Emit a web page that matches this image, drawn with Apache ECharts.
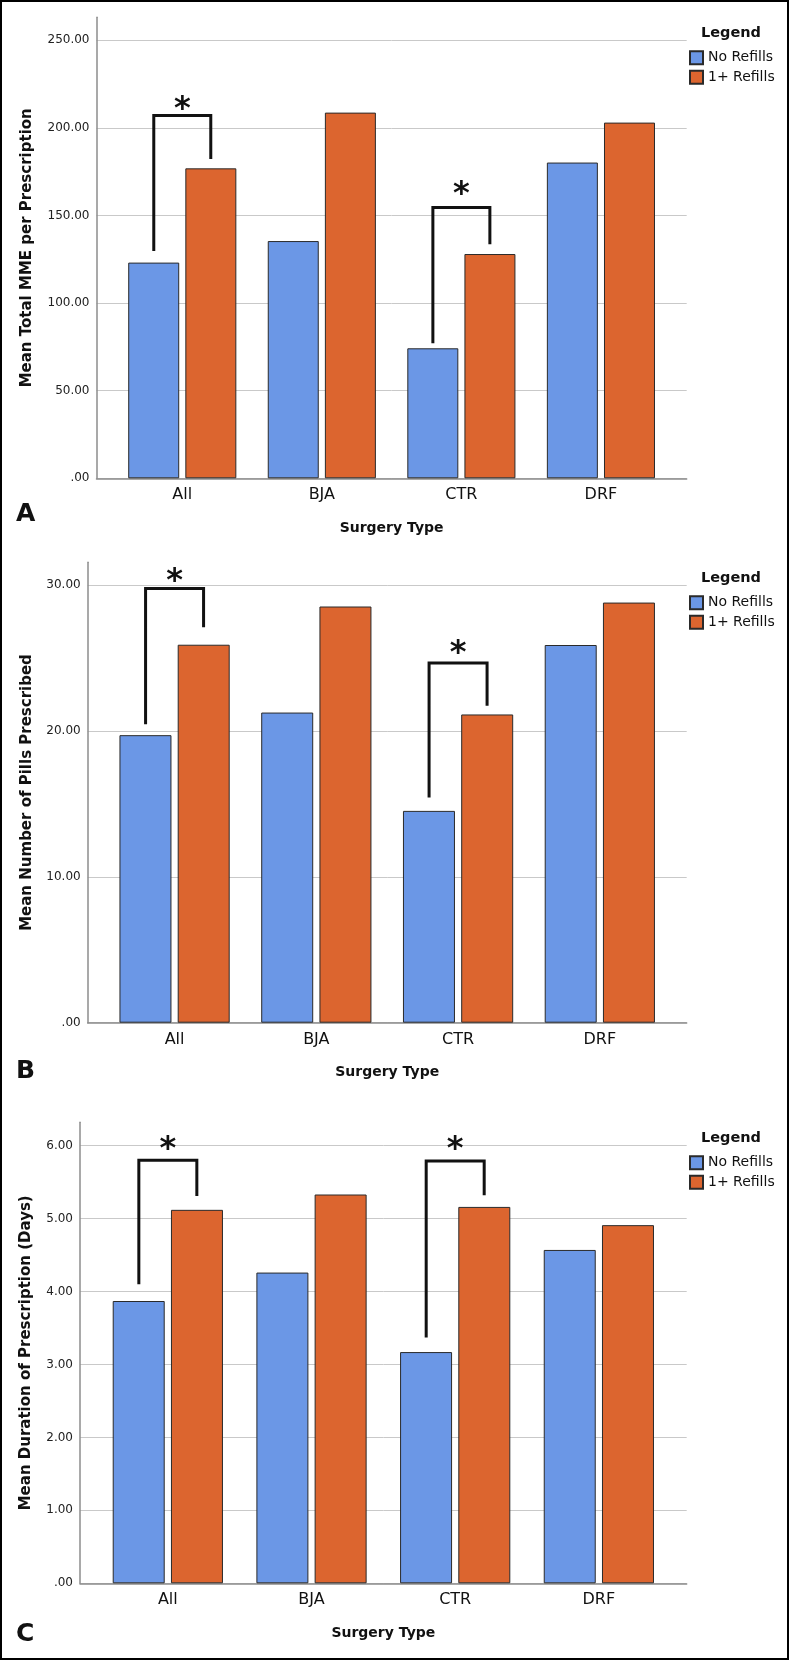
<!DOCTYPE html>
<html>
<head>
<meta charset="utf-8">
<script src="https://cdn.jsdelivr.net/npm/echarts@6/dist/echarts.min.js"></script>
<style>
  html, body { margin: 0; padding: 0; background: #fff; }
  #chart { width: 789px; height: 1660px; }
</style>
</head>
<body>
<div id="chart"></div>
<script>
const categories = ['All', 'BJA', 'CTR', 'DRF']
const seriesNames = ['No Refills', '1+ Refills']

// A - Mean Total MME per Prescription
const mmeNoRefills = [123.1, 135.4, 74.2, 180.2]
const mmeRefills = [176.9, 208.7, 128.0, 203.0]
// B - Mean Number of Pills Prescribed
const pillsNoRefills = [19.71, 21.26, 14.52, 25.89]
const pillsRefills = [25.91, 28.53, 21.13, 28.80]
// C - Mean Duration of Prescription (Days)
const daysNoRefills = [3.87, 4.26, 3.17, 4.57]
const daysRefills = [5.12, 5.33, 5.16, 4.91]

// significance brackets: [category index, left end, top, right end, star]
const mmeBrackets = [[0, 129.7, 207.0, 182.3, 215.0], [2, 77.1, 154.5, 133.6, 166.4]]
const pillsBrackets = [[0, 20.45, 29.76, 27.11, 30.78], [2, 15.43, 24.66, 21.72, 25.84]]
const daysBrackets = [[0, 4.10, 5.80, 5.31, 6.06], [2, 3.37, 5.79, 5.32, 6.06]]

// y axis ranges / tick steps
const mmeAxis = { max: 263.1, interval: 50 }
const pillsAxis = { max: 31.56, interval: 10 }
const daysAxis = { max: 6.32, interval: 1 }

const FONT = 'DejaVu Sans'
const BLUE = '#6b97e6'
const ORANGE = '#dc652f'
const W = 789, H = 1660
const gridRight = W - 686.7

const panels = [
  { letter: 'A', yName: 'Mean Total MME per Prescription', no: mmeNoRefills, yes: mmeRefills,
    brackets: mmeBrackets, axis: mmeAxis, axisX: 96.5, top: 17.3, base: 478.3, barWidth: 51, nameGap: 62, letterY: 514 },
  { letter: 'B', yName: 'Mean Number of Pills Prescribed', no: pillsNoRefills, yes: pillsRefills,
    brackets: pillsBrackets, axis: pillsAxis, axisX: 87.7, top: 562.3, base: 1022.7, barWidth: 52, nameGap: 53, letterY: 1071 },
  { letter: 'C', yName: 'Mean Duration of Prescription (Days)', no: daysNoRefills, yes: daysRefills,
    brackets: daysBrackets, axis: daysAxis, axisX: 80, top: 1122.3, base: 1583.3, barWidth: 52, nameGap: 46, letterY: 1634 }
]

const tickLabel = v => (v === 0 ? '.00' : v.toFixed(2))

const grid = []
const xAxis = []
const yAxis = []
const series = []
const legend = []
const graphic = [
  { type: 'rect', shape: { x: 1, y: 1, width: W - 2, height: H - 2 }, style: { fill: null, stroke: '#000', lineWidth: 2 }, z: 100 }
]

panels.forEach((p, i) => {
  const bottom = H - p.base
  const g0 = i * 2, g1 = i * 2 + 1
  // background grid: y axis, grid lines, baseline
  grid.push({ left: p.axisX, right: gridRight, top: p.top, bottom, outerBoundsMode: 'none' })
  // bar grid, inset from the axis
  grid.push({ left: p.axisX + 16, right: gridRight + 16, top: p.top, bottom, outerBoundsMode: 'none' })

  xAxis.push({
    gridIndex: g0, type: 'category', data: categories,
    axisLine: { show: true, lineStyle: { color: '#8c8c8c', width: 1.5 } },
    axisTick: { show: false }, axisLabel: { show: false }, splitLine: { show: false }
  })
  xAxis.push({
    gridIndex: g1, type: 'category', data: categories,
    axisLine: { show: false }, axisTick: { show: false },
    axisLabel: { color: '#111', fontFamily: FONT, fontSize: 16, margin: 9 },
    name: 'Surgery Type', nameLocation: 'middle', nameGap: 43, nameMoveOverlap: false,
    nameTextStyle: { color: '#111', fontFamily: FONT, fontSize: 14, fontWeight: 'bold' }
  })
  yAxis.push({
    gridIndex: g0, type: 'value', min: 0, max: p.axis.max, interval: p.axis.interval,
    name: p.yName, nameLocation: 'middle', nameGap: p.nameGap, nameMoveOverlap: false,
    nameTextStyle: { color: '#111', fontFamily: FONT, fontSize: 15, fontWeight: 'bold' },
    axisLine: { show: true, lineStyle: { color: '#8c8c8c', width: 1.5 } },
    axisTick: { show: false },
    axisLabel: { formatter: tickLabel, color: '#222', fontFamily: FONT, fontSize: 12, margin: 7, showMaxLabel: false },
    splitLine: { show: true, showMaxLine: false, lineStyle: { color: '#c9c9c9', width: 1 } }
  })
  yAxis.push({
    gridIndex: g1, type: 'value', min: 0, max: p.axis.max, interval: p.axis.interval,
    axisLine: { show: false }, axisTick: { show: false }, axisLabel: { show: false }, splitLine: { show: false }
  })

  const barStyle = color => ({ color, borderColor: '#2a2a2a', borderWidth: 1 })
  series.push({
    name: seriesNames[0], type: 'bar', xAxisIndex: g1, yAxisIndex: g1, data: p.no,
    barWidth: p.barWidth, barGap: '12%', itemStyle: barStyle(BLUE), emphasis: { disabled: true }
  })
  series.push({
    name: seriesNames[1], type: 'bar', xAxisIndex: g1, yAxisIndex: g1, data: p.yes,
    barWidth: p.barWidth, barGap: '12%', itemStyle: barStyle(ORANGE), emphasis: { disabled: true }
  })
  series.push({
    type: 'custom', xAxisIndex: g1, yAxisIndex: g1, data: p.brackets, z: 5,
    encode: { x: 0, y: [1, 2, 3, 4] }, silent: true,
    renderItem: (params, api) => {
      const cat = api.value(0)
      const l = api.coord([cat, api.value(1)])
      const t = api.coord([cat, api.value(2)])
      const r = api.coord([cat, api.value(3)])
      const s = api.coord([cat, api.value(4)])
      const off = (p.barWidth + 6) / 2
      return {
        type: 'group',
        children: [
          {
            type: 'polyline',
            shape: { points: [[l[0] - off, l[1]], [l[0] - off, t[1]], [r[0] + off, t[1]], [r[0] + off, r[1]]] },
            style: { stroke: '#111', lineWidth: 3, fill: null, lineJoin: 'miter', lineCap: 'butt' }
          },
          {
            type: 'text', x: s[0], y: s[1] + 8,
            style: { text: '*', font: 'bold 32px "DejaVu Sans"', fill: '#111', textAlign: 'center', textVerticalAlign: 'middle' }
          }
        ]
      }
    }
  })

  legend.push({
    data: seriesNames, orient: 'vertical', left: 689, top: p.top + 33, padding: 0,
    itemWidth: 13, itemHeight: 13, itemGap: 4.5, icon: 'rect', selectedMode: false,
    textStyle: { color: '#111', fontFamily: FONT, fontSize: 14 }
  })
  graphic.push({
    type: 'text', x: 731, y: p.top + 15.5,
    style: { text: 'Legend', font: 'bold 14.5px "DejaVu Sans"', fill: '#111', textAlign: 'center', textVerticalAlign: 'middle' }
  })
  graphic.push({
    type: 'text', x: 16, y: p.letterY,
    style: { text: p.letter, font: 'bold 25px "DejaVu Sans"', fill: '#111', textAlign: 'left', textVerticalAlign: 'middle' }
  })
})

const chart = echarts.init(document.getElementById('chart'), null, { renderer: 'canvas' })
chart.setOption({
  backgroundColor: '#fff',
  animation: false,
  grid, xAxis, yAxis, series, legend, graphic
})
</script>
</body>
</html>
